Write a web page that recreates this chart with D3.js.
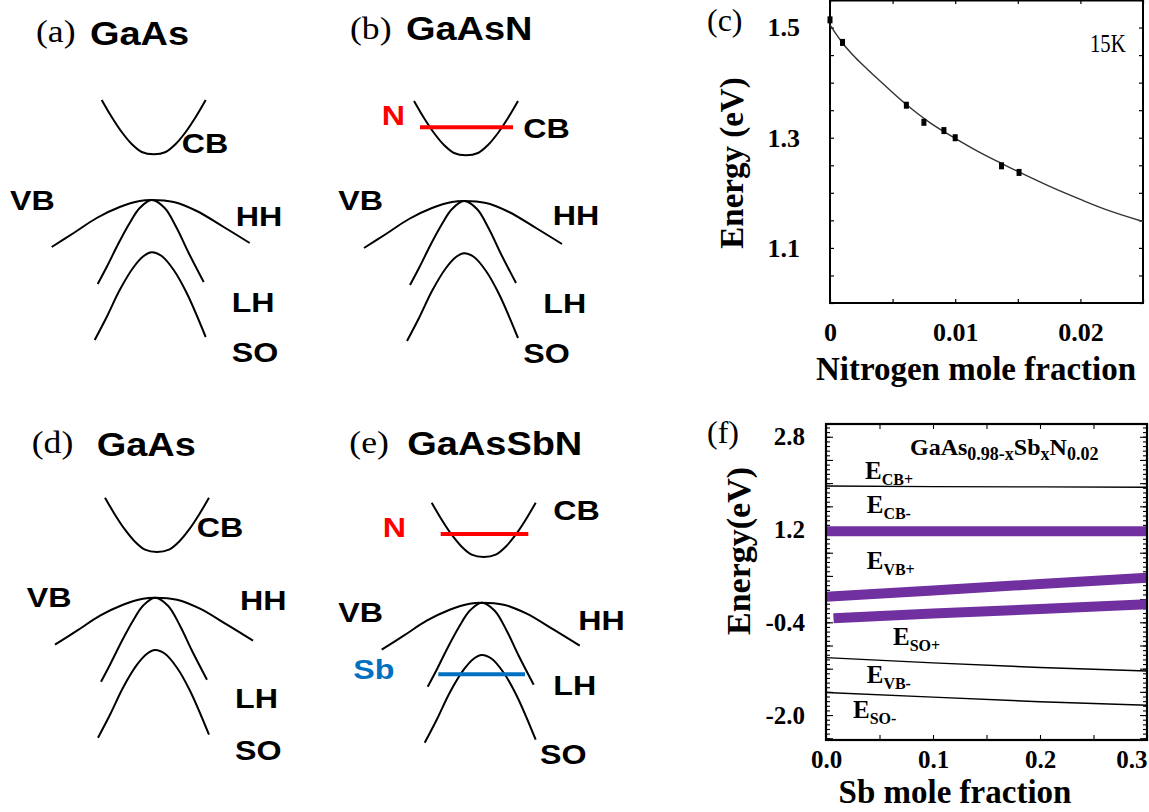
<!DOCTYPE html>
<html>
<head>
<meta charset="utf-8">
<script src="https://cdn.jsdelivr.net/npm/d3@7"></script>
<style>
  body { margin: 0; background: #fff; }
  svg { display: block; }
</style>
</head>
<body>
<script>
// ---------------- Data ----------------
// Schematic band dispersions: wavevector k and energy E (arbitrary units, VB maximum at E = 0)
const cbK = [-0.50, -0.40, -0.30, -0.20, -0.10, 0.02, 0.14, 0.24, 0.34, 0.44, 0.54];
const cbE = [1.00, 0.83, 0.68, 0.56, 0.48, 0.457, 0.48, 0.56, 0.68, 0.83, 1.00];
const hhK = [-1.00, -0.78, -0.55, -0.32, -0.12, 0, 0.22, 0.45, 0.72, 0.98];
const hhE = [-0.47, -0.33, -0.18, -0.07, -0.01, 0, -0.02, -0.11, -0.27, -0.43];
const lhK = [-0.54, -0.45, -0.33, -0.22, -0.12, 0, 0.13, 0.25, 0.37, 0.52];
const lhE = [-0.84, -0.67, -0.43, -0.23, -0.08, 0, -0.08, -0.28, -0.53, -0.82];
const soK = [-0.57, -0.45, -0.32, -0.18, -0.08, 0, 0.10, 0.22, 0.35, 0.54];
const soE = [-1.40, -1.17, -0.90, -0.67, -0.56, -0.523, -0.56, -0.70, -0.93, -1.37];

// Localized impurity levels (k extent, energy)
const nLevelK_b = [-0.44, 0.49];
const nLevelE_b = 0.737;
const nLevelK_e = [-0.41, 0.466];
const nLevelE_e = 0.687;
const sbLevelK_e = [-0.434, 0.433];
const sbLevelE_e = -0.716;

// Panel (c): band gap of GaAsN vs N mole fraction at 15 K
const nFrac   = [0, 0.001, 0.0061, 0.0075, 0.0091, 0.0100, 0.0137, 0.0151];
const gapMeas = [1.514, 1.473, 1.359, 1.328, 1.313, 1.300, 1.249, 1.237];
const fitX = [0, 0.001, 0.002, 0.003, 0.004, 0.006, 0.008, 0.010, 0.012, 0.014, 0.016, 0.018, 0.020, 0.022, 0.025];
const fitE = [1.505, 1.472, 1.446, 1.424, 1.403, 1.362, 1.327, 1.299, 1.273, 1.250, 1.228, 1.207, 1.188, 1.170, 1.148];
const cYTicks = [1.1, 1.3, 1.5];
const cXTicks = [0, 0.01, 0.02];
const cXTickLabels = ["0", "0.01", "0.02"];

// Panel (f): band edges of GaAs(0.98-x)Sb(x)N(0.02) vs Sb mole fraction
const sbFrac   = [0, 0.1, 0.2, 0.3];
const eCBplus  = [1.95, 1.94, 1.935, 1.93];
const eCBminus = [1.17, 1.17, 1.17, 1.17];
const eVBplus  = [0.04, 0.15, 0.26, 0.37];
const sbFracSO = [0.007, 0.1, 0.2, 0.3];
const eSOplus  = [-0.33, -0.25, -0.17, -0.09];
const eVBminus = [-1.01, -1.10, -1.18, -1.24];
const eSOminus = [-1.61, -1.69, -1.77, -1.83];
const fYTicks = [-2.0, -0.4, 1.2, 2.8];
const fXTicks = [0, 0.1, 0.2, 0.3];

// ---------------- Drawing ----------------
const W = 1149, H = 812;
const svg = d3.select("body").append("svg").attr("width", W).attr("height", H);

const SANS = "'Liberation Sans', Arial, sans-serif";
const SERIF = "'Liberation Serif', 'Times New Roman', serif";
const STRETCH = 1.15;
// one-decimal labels with a plain hyphen for negatives
const fmt1 = d => d3.format(".1f")(d).replace("\u2212", "-");

function stretchedText(g, x, y, str, size, opts = {}) {
  return g.append("text")
    .attr("transform", `translate(${x},${y}) scale(${STRETCH},1)`)
    .attr("font-family", opts.family || SANS)
    .attr("font-weight", opts.weight || "bold")
    .attr("font-size", size)
    .attr("fill", opts.color || "#000")
    .text(str);
}

// ---- Schematic band diagrams ----
const schematics = [
  { id: "a", title: "GaAs",    origin: [151.7, 200.0], tag: [36, 42],  titlePos: [90, 45],
    labels: [["CB", 181.7, 153], ["VB", 10, 210], ["HH", 235.7, 226], ["LH", 231.7, 311.7], ["SO", 231.7, 361.7]] },
  { id: "b", title: "GaAsN",   origin: [464.0, 201.0], tag: [350, 39], titlePos: [406, 39.5],
    labels: [["CB", 523.3, 138.3], ["VB", 338.3, 210], ["HH", 552.7, 225], ["LH", 543.3, 313], ["SO", 523.3, 363]],
    nLevel: { k: nLevelK_b, E: nLevelE_b, label: [381.7, 125] } },
  { id: "d", title: "GaAs",    origin: [155.0, 597.7], tag: [31.7, 453], titlePos: [96.7, 456],
    labels: [["CB", 196.7, 536.7], ["VB", 26.7, 606.7], ["HH", 240, 610], ["LH", 235, 708.3], ["SO", 235, 760]] },
  { id: "e", title: "GaAsSbN", origin: [481.7, 602.7], tag: [349.3, 453], titlePos: [407.3, 455],
    labels: [["CB", 553.3, 520], ["VB", 338.3, 621.7], ["HH", 578.3, 630], ["LH", 553.3, 695], ["SO", 540, 764.3]],
    nLevel: { k: nLevelK_e, E: nLevelE_e, label: [382.7, 537.3] },
    sbLevel: { k: sbLevelK_e, E: sbLevelE_e, label: [353.3, 679.3] } }
];

const bands = [[cbK, cbE], [hhK, hhE], [lhK, lhE], [soK, soE]];

schematics.forEach(p => {
  const g = svg.append("g");
  const [ox, oy] = p.origin;
  const kx = d3.scaleLinear().domain([-1, 1]).range([ox - 100, ox + 100]);
  const ey = d3.scaleLinear().domain([0, 1]).range([oy, oy - 100]);
  const line = d3.line().x(d => kx(d[0])).y(d => ey(d[1])).curve(d3.curveCatmullRom.alpha(0.5));

  bands.forEach(([ks, es]) => {
    g.append("path")
      .attr("d", line(ks.map((k, i) => [k, es[i]])))
      .attr("fill", "none").attr("stroke", "#000").attr("stroke-width", 2);
  });

  if (p.nLevel) {
    g.append("line")
      .attr("x1", kx(p.nLevel.k[0])).attr("x2", kx(p.nLevel.k[1]))
      .attr("y1", ey(p.nLevel.E)).attr("y2", ey(p.nLevel.E))
      .attr("stroke", "#ff0000").attr("stroke-width", 4);
    stretchedText(g, p.nLevel.label[0], p.nLevel.label[1], "N", 28, { color: "#ff0000" });
  }
  if (p.sbLevel) {
    g.append("line")
      .attr("x1", kx(p.sbLevel.k[0])).attr("x2", kx(p.sbLevel.k[1]))
      .attr("y1", ey(p.sbLevel.E)).attr("y2", ey(p.sbLevel.E))
      .attr("stroke", "#0070c0").attr("stroke-width", 4);
    stretchedText(g, p.sbLevel.label[0], p.sbLevel.label[1], "Sb", 28, { color: "#0070c0" });
  }

  p.labels.forEach(([t, x, y]) => stretchedText(g, x, y, t, 28));
  stretchedText(g, p.tag[0], p.tag[1], `(${p.id})`, 31, { family: SERIF, weight: "normal" });
  stretchedText(g, p.titlePos[0], p.titlePos[1], p.title, 33);
});

// ---- Panel (c) ----
(function () {
  const g = svg.append("g");
  const x = d3.scaleLinear().domain([0, 0.025]).range([830, 1143]);
  const y = d3.scaleLinear().domain([1.0, 1.55]).range([303, 0]);

  const minorY = d3.range(1.0, 1.5501, 0.05);
  const minorX = d3.range(0, 0.02501, 0.005);

  g.append("g").attr("transform", `translate(${x(0)},0)`)
    .call(d3.axisLeft(y).tickValues(minorY).tickSize(-4).tickFormat(""));
  g.append("g").attr("transform", `translate(${x(0.025)},0)`)
    .call(d3.axisRight(y).tickValues(minorY).tickSize(-4).tickFormat(""));
  g.append("g").attr("transform", `translate(0,${y(1.0)})`)
    .call(d3.axisBottom(x).tickValues(minorX).tickSize(-4).tickFormat(""));
  g.append("g").attr("transform", `translate(0,${y(1.55)})`)
    .call(d3.axisTop(x).tickValues(minorX).tickSize(-4).tickFormat(""));

  const yl = g.append("g").attr("transform", `translate(${x(0)},0)`)
    .call(d3.axisLeft(y).tickValues(cYTicks).tickSize(0).tickPadding(30).tickFormat(fmt1));
  const xl = g.append("g").attr("transform", `translate(0,${y(1.0)})`)
    .call(d3.axisBottom(x).tickValues(cXTicks).tickSize(0).tickPadding(20)
      .tickFormat((d, i) => cXTickLabels[i]));
  [yl, xl].forEach(a => {
    a.selectAll("text").attr("font-family", SERIF).attr("font-weight", "bold").attr("font-size", 26).attr("fill", "#000");
  });
  g.selectAll(".domain").remove();
  g.selectAll(".tick line").attr("stroke", "#000").attr("stroke-width", 1.2);

  g.append("rect").attr("x", x(0)).attr("y", 0.5)
    .attr("width", x(0.025) - x(0)).attr("height", y(1.0) - 0.5)
    .attr("fill", "none").attr("stroke", "#000").attr("stroke-width", 2);

  g.append("path")
    .attr("d", d3.line().x(d => x(d[0])).y(d => y(d[1])).curve(d3.curveMonotoneX)(fitX.map((v, i) => [v, fitE[i]])))
    .attr("fill", "none").attr("stroke", "#333").attr("stroke-width", 1.4);

  g.selectAll("rect.pt").data(nFrac).enter().append("rect").attr("class", "pt")
    .attr("x", d => x(d) - 2.5).attr("y", (d, i) => y(gapMeas[i]) - 3.5)
    .attr("width", 5).attr("height", 7).attr("fill", "#000");

  g.append("text").attr("transform", "translate(1090,52) scale(0.9,1.1)")
    .attr("font-family", SERIF).attr("font-size", 23).attr("fill", "#000").text("15K");

  g.append("text").attr("x", 707).attr("y", 31)
    .attr("font-family", SERIF).attr("font-size", 32).attr("fill", "#000").text("(c)");

  g.append("text").attr("transform", `translate(743,163) rotate(-90)`)
    .attr("text-anchor", "middle")
    .attr("font-family", SERIF).attr("font-weight", "bold").attr("font-size", 33).attr("fill", "#000")
    .text("Energy (eV)");
  g.append("text").attr("x", 976).attr("y", 380).attr("text-anchor", "middle")
    .attr("font-family", SERIF).attr("font-weight", "bold").attr("font-size", 33).attr("fill", "#000")
    .text("Nitrogen mole fraction");
})();

// ---- Panel (f) ----
(function () {
  const g = svg.append("g");
  const x = d3.scaleLinear().domain([0, 0.3]).range([826, 1147]);
  const y = d3.scaleLinear().domain([-2.43, 3.02]).range([740, 424]);

  const minorY = d3.range(-2.4, 3.0, 0.08);
  const midY = d3.range(-2.4, 3.0, 0.4);
  const minorX = d3.range(0, 0.3001, 0.05);

  [[d3.axisLeft, x(0)], [d3.axisRight, x(0.3)]].forEach(([ax, px]) => {
    g.append("g").attr("transform", `translate(${px},0)`)
      .call(ax(y).tickValues(minorY).tickSize(-4).tickFormat(""));
    g.append("g").attr("transform", `translate(${px},0)`)
      .call(ax(y).tickValues(midY).tickSize(-7).tickFormat(""));
  });
  g.append("g").attr("transform", `translate(0,${y(-2.43)})`)
    .call(d3.axisBottom(x).tickValues(minorX).tickSize(-5).tickFormat(""));
  g.append("g").attr("transform", `translate(0,${y(3.02)})`)
    .call(d3.axisTop(x).tickValues(minorX).tickSize(-5).tickFormat(""));

  const yl = g.append("g").attr("transform", `translate(${x(0)},0)`)
    .call(d3.axisLeft(y).tickValues(fYTicks).tickSize(0).tickPadding(21).tickFormat(fmt1));
  const xl = g.append("g").attr("transform", `translate(0,${y(-2.43)})`)
    .call(d3.axisBottom(x).tickValues(fXTicks).tickSize(0).tickPadding(10).tickFormat(fmt1));
  [yl, xl].forEach(a => {
    a.selectAll("text").attr("font-family", SERIF).attr("font-weight", "bold").attr("font-size", 25).attr("fill", "#000");
  });
  xl.selectAll("text").filter(d => d === 0.3).attr("text-anchor", "end");
  g.selectAll(".domain").remove();
  g.selectAll(".tick line").attr("stroke", "#000").attr("stroke-width", 1.1);

  const line = d3.line().x(d => x(d[0])).y(d => y(d[1]));
  const thin = [[sbFrac, eCBplus], [sbFrac, eVBminus], [sbFrac, eSOminus]];
  const thick = [[sbFrac, eCBminus], [sbFrac, eVBplus], [sbFracSO, eSOplus]];
  thin.forEach(([xs, es]) => g.append("path")
    .attr("d", line(xs.map((v, i) => [v, es[i]])))
    .attr("fill", "none").attr("stroke", "#000").attr("stroke-width", 1.4));
  thick.forEach(([xs, es]) => g.append("path")
    .attr("d", line(xs.map((v, i) => [v, es[i]])))
    .attr("fill", "none").attr("stroke", "#7030a0").attr("stroke-width", 10));

  g.append("rect").attr("x", x(0)).attr("y", y(3.02))
    .attr("width", x(0.3) - x(0)).attr("height", y(-2.43) - y(3.02))
    .attr("fill", "none").attr("stroke", "#000").attr("stroke-width", 2.2);

  // band labels: E with subscript
  const eLabels = [["CB+", 865, 479], ["CB-", 866.7, 513], ["VB+", 866.7, 569],
                   ["SO+", 893, 645], ["VB-", 866.7, 683], ["SO-", 853, 718]];
  eLabels.forEach(([sub, lx, ly]) => {
    const t = g.append("text").attr("x", lx).attr("y", ly)
      .attr("font-family", SERIF).attr("font-weight", "bold").attr("font-size", 25).attr("fill", "#000");
    t.append("tspan").text("E");
    t.append("tspan").attr("font-size", 16).attr("dy", 6).text(sub);
  });

  const title = g.append("text").attr("x", 910).attr("y", 455)
    .attr("font-family", SERIF).attr("font-weight", "bold").attr("font-size", 24).attr("fill", "#000");
  title.append("tspan").text("GaAs");
  title.append("tspan").attr("font-size", 18).attr("dy", 5).text("0.98-x");
  title.append("tspan").attr("dy", -5).text("Sb");
  title.append("tspan").attr("font-size", 18).attr("dy", 5).text("x");
  title.append("tspan").attr("dy", -5).text("N");
  title.append("tspan").attr("font-size", 18).attr("dy", 5).text("0.02");

  g.append("text").attr("x", 707).attr("y", 443)
    .attr("font-family", SERIF).attr("font-size", 32).attr("fill", "#000").text("(f)");

  g.append("text").attr("transform", `translate(750,551) rotate(-90)`)
    .attr("text-anchor", "middle")
    .attr("font-family", SERIF).attr("font-weight", "bold").attr("font-size", 34).attr("fill", "#000")
    .text("Energy(eV)");
  g.append("text").attr("x", 955).attr("y", 803).attr("text-anchor", "middle")
    .attr("font-family", SERIF).attr("font-weight", "bold").attr("font-size", 33).attr("fill", "#000")
    .text("Sb mole fraction");
})();
</script>
</body>
</html>
